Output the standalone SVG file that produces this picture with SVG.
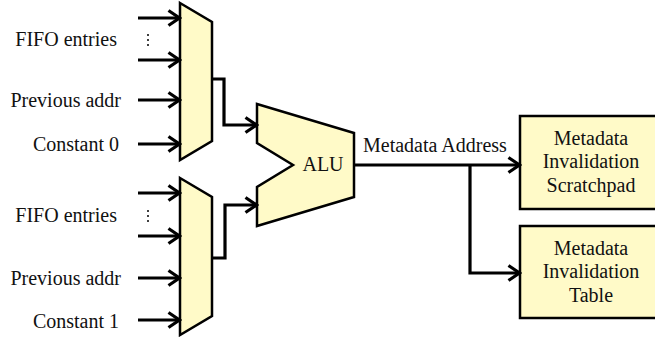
<svg xmlns="http://www.w3.org/2000/svg" width="655" height="337" viewBox="0 0 655 337">
  <style>
    .blk { fill: #fffac8; stroke: #000; stroke-width: 2.5; stroke-linejoin: miter; }
    .wire { fill: none; stroke: #000; stroke-width: 3.2; stroke-linejoin: miter; }
    .lbl { font-family: "Liberation Serif", "Times New Roman", serif; font-size: 20px; fill: #111; }
    .dots { fill: #000; }
  </style>
  <defs>
    <marker id="arrow" viewBox="0 0 16 18" refX="14" refY="9" markerWidth="16" markerHeight="18" markerUnits="userSpaceOnUse" orient="auto">
      <path d="M2.5,1.5 L13.5,9 L2.5,16.5" fill="none" stroke="#000" stroke-width="3.2"/>
    </marker>
  </defs>

  <!-- upper input multiplexer -->
  <g id="mux-top">
    <polygon class="blk" points="180,3 212,22 212,141 180,160"/>
    <text class="lbl" x="117" y="46" text-anchor="end">FIFO entries</text>
    <text class="lbl" x="121" y="107" text-anchor="end">Previous addr</text>
    <text class="lbl" x="119" y="151" text-anchor="end">Constant 0</text>
    <circle class="dots" cx="148" cy="35" r="1"/>
    <circle class="dots" cx="148" cy="40" r="1"/>
    <circle class="dots" cx="148" cy="45" r="1"/>
  </g>

  <!-- lower input multiplexer -->
  <g id="mux-bottom">
    <polygon class="blk" points="180,178 212,197 212,316 180,335"/>
    <text class="lbl" x="117" y="222" text-anchor="end">FIFO entries</text>
    <text class="lbl" x="121" y="285" text-anchor="end">Previous addr</text>
    <text class="lbl" x="119" y="328" text-anchor="end">Constant 1</text>
    <circle class="dots" cx="148" cy="211" r="1"/>
    <circle class="dots" cx="148" cy="216" r="1"/>
    <circle class="dots" cx="148" cy="221" r="1"/>
  </g>

  <!-- arithmetic unit -->
  <g id="alu">
    <polygon class="blk" points="257,104 354,133 354,197 257,226 257,187 293,165 257,143"/>
    <text class="lbl" x="323" y="171" text-anchor="middle">ALU</text>
  </g>

  <!-- destination tables -->
  <g id="scratchpad">
    <rect class="blk" x="520" y="116" width="142" height="93"/>
    <text class="lbl" x="591" y="145" text-anchor="middle">Metadata</text>
    <text class="lbl" x="591" y="168" text-anchor="middle">Invalidation</text>
    <text class="lbl" x="591" y="192" text-anchor="middle">Scratchpad</text>
  </g>
  <g id="table">
    <rect class="blk" x="520" y="226" width="142" height="92"/>
    <text class="lbl" x="591" y="255" text-anchor="middle">Metadata</text>
    <text class="lbl" x="591" y="278" text-anchor="middle">Invalidation</text>
    <text class="lbl" x="591" y="302" text-anchor="middle">Table</text>
  </g>

  <g id="connectors">
    <!-- upper mux inputs -->
    <path class="wire" d="M138,18 H180" marker-end="url(#arrow)"/>
    <path class="wire" d="M138,60 H180" marker-end="url(#arrow)"/>
    <path class="wire" d="M138,100 H180" marker-end="url(#arrow)"/>
    <path class="wire" d="M138,144 H180" marker-end="url(#arrow)"/>
    <!-- lower mux inputs -->
    <path class="wire" d="M138,193 H180" marker-end="url(#arrow)"/>
    <path class="wire" d="M138,236 H180" marker-end="url(#arrow)"/>
    <path class="wire" d="M138,278 H180" marker-end="url(#arrow)"/>
    <path class="wire" d="M138,320 H180" marker-end="url(#arrow)"/>
    <!-- mux outputs into ALU -->
    <path class="wire" d="M212,79 H224 V125 H257" marker-end="url(#arrow)"/>
    <path class="wire" d="M212,258 H225 V205 H257" marker-end="url(#arrow)"/>
    <!-- ALU result -->
    <path class="wire" d="M354,165 H520" marker-end="url(#arrow)"/>
    <path class="wire" d="M470,165 V273 H520" marker-end="url(#arrow)"/>
    <text class="lbl" x="363" y="152">Metadata Address</text>
  </g>
</svg>
